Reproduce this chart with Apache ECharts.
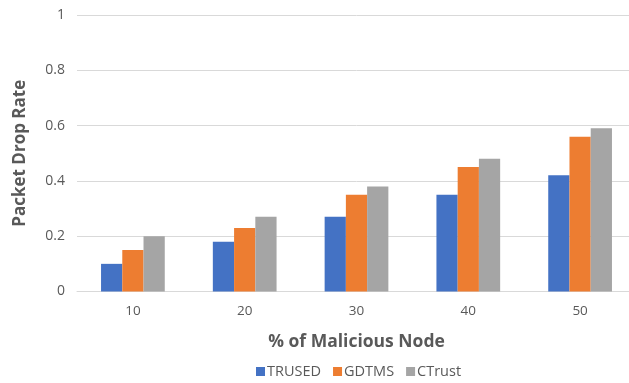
<!DOCTYPE html>
<html><head><meta charset="utf-8">
<script src="https://cdn.jsdelivr.net/npm/echarts@6/dist/echarts.min.js"></script>
<style>html,body{margin:0;padding:0;background:#fff;overflow:hidden}#c{width:640px;height:383px}</style>
</head><body><div id="c"></div>
<script>
var categories = ['10', '20', '30', '40', '50'];
var trused = [0.10, 0.18, 0.27, 0.35, 0.42];
var gdtms = [0.15, 0.23, 0.35, 0.45, 0.56];
var ctrust = [0.20, 0.27, 0.38, 0.48, 0.59];
var yTicks = [0, 0.2, 0.4, 0.6, 0.8, 1];

var chart = echarts.init(document.getElementById('c'));
var font = '"Open Sans", "Noto Sans", sans-serif';
chart.setOption({
  animation: false,
  textStyle: { fontFamily: font },
  grid: { left: 77, width: 559, top: 15, height: 276.5, containLabel: false },
  legend: {
    top: 364, left: 256, padding: 0,
    itemWidth: 9, itemHeight: 9, itemGap: 12, icon: 'rect',
    textStyle: { color: '#595959', fontSize: 14.5, fontFamily: font, padding: [0, 0, 0, -3] },
    data: ['TRUSED', 'GDTMS', 'CTrust']
  },
  xAxis: {
    type: 'category', data: categories,
    name: '% of Malicious Node', nameLocation: 'middle', nameGap: 42,
    nameTextStyle: { fontSize: 17.5, fontWeight: 'bold', color: '#595959', fontFamily: font },
    axisLine: { lineStyle: { color: '#d9d9d9', width: 1 } },
    axisTick: { show: false },
    axisLabel: { color: '#595959', fontSize: 13.5, margin: 13, fontFamily: font }
  },
  yAxis: {
    type: 'value', min: yTicks[0], max: yTicks[yTicks.length - 1], interval: 0.2,
    name: 'Packet Drop Rate', nameLocation: 'middle', nameGap: 48,
    nameTextStyle: { fontSize: 17, fontWeight: 'bold', color: '#595959', fontFamily: font },
    axisLine: { show: false }, axisTick: { show: false },
    axisLabel: { color: '#595959', fontSize: 14, margin: 12, fontFamily: font,
      formatter: function (v) { return String(Math.round(v * 10) / 10); } },
    splitLine: { lineStyle: { color: '#d9d9d9', width: 1 } }
  },
  series: [
    { name: 'TRUSED', type: 'bar', data: trused, itemStyle: { color: '#4472C4' }, barGap: '0%', barCategoryGap: '43%' },
    { name: 'GDTMS', type: 'bar', data: gdtms, itemStyle: { color: '#ED7D31' }, barGap: '0%', barCategoryGap: '43%' },
    { name: 'CTrust', type: 'bar', data: ctrust, itemStyle: { color: '#A5A5A5' }, barGap: '0%', barCategoryGap: '43%' }
  ]
});
</script></body></html>
